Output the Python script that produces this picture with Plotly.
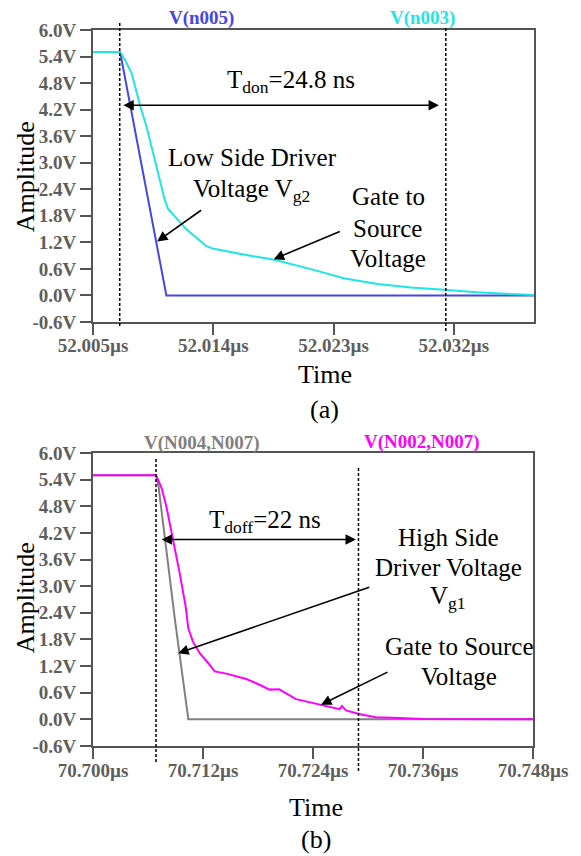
import plotly.graph_objects as go

# ---------------- data (a) ----------------
t_n005_us = [52.0050, 52.00703, 52.01049, 52.0380]
v_n005 = [5.5, 5.5, 0.0, 0.0]

t_n003_us = [52.0050, 52.00703, 52.00740, 52.00789, 52.00851, 52.00900, 52.00950,
             52.00999, 52.01036, 52.01061, 52.01197, 52.01346, 52.01395, 52.01617,
             52.01865, 52.02137, 52.02384, 52.02631, 52.02878, 52.03126, 52.03373,
             52.03670, 52.0380]
v_n003 = [5.5, 5.5, 5.32, 5.02, 4.31, 3.82, 3.22, 2.62, 2.17, 1.96, 1.50, 1.12, 1.06,
          0.93, 0.80, 0.59, 0.385, 0.257, 0.18, 0.13, 0.07, 0.025, 0.01]

# ---------------- data (b) ----------------
t_n004_us = [70.7000, 70.70687, 70.70715, 70.70894, 70.71040, 70.7480]
v_n004 = [5.5, 5.5, 5.25, 2.24, 0.0, 0.0]

t_n002_us = [70.7000, 70.70687, 70.70710, 70.70750, 70.70800, 70.70875, 70.70945,
             70.71010, 70.71040, 70.71090, 70.71165, 70.71256, 70.71328, 70.71455,
             70.71672, 70.71817, 70.71926, 70.72030, 70.72060, 70.72215, 70.72433,
             70.72650, 70.72690, 70.72715, 70.72760, 70.72903, 70.73084, 70.73340,
             70.73600, 70.7480]
v_n002 = [5.5, 5.5, 5.4, 5.2, 4.8, 4.05, 3.3, 2.55, 2.05, 1.75, 1.49, 1.27, 1.08, 1.03,
          0.91, 0.78, 0.67, 0.68, 0.64, 0.455, 0.35, 0.25, 0.23, 0.30, 0.20, 0.12, 0.05,
          0.03, 0.01, 0.0]

xticks_a = [52.005, 52.014, 52.023, 52.032]
xticks_b = [70.700, 70.712, 70.724, 70.736, 70.748]
yticks = [-0.6, 0.0, 0.6, 1.2, 1.8, 2.4, 3.0, 3.6, 4.2, 4.8, 5.4, 6.0]

dash_a = [52.0070, 52.0314]
dash_b = [70.70687, 70.72896]

# ---------------- styling ----------------
SERIF = "Liberation Serif"
AXC = "#555555"
TICKC = "#5e5e5e"
BLUE = "#4646e6"
CYAN = "#1fe6e6"
MAG = "#ff00ff"
GRAY = "#808080"

W, H = 581, 856
ML, MR, MT, MB = 93, 45, 30, 110
PW = W - ML - MR
PH = H - MT - MB


def P(px, py):
    return (px - ML) / PW, (H - MB - py) / PH


fig = go.Figure()
fig.add_trace(go.Scatter(x=t_n005_us, y=v_n005, mode="lines", line=dict(color=BLUE, width=2),
                         xaxis="x", yaxis="y", showlegend=False))
fig.add_trace(go.Scatter(x=t_n003_us, y=v_n003, mode="lines", line=dict(color=CYAN, width=2),
                         xaxis="x", yaxis="y", showlegend=False))
fig.add_trace(go.Scatter(x=t_n004_us, y=v_n004, mode="lines", line=dict(color=GRAY, width=2),
                         xaxis="x2", yaxis="y2", showlegend=False))
fig.add_trace(go.Scatter(x=t_n002_us, y=v_n002, mode="lines", line=dict(color=MAG, width=2),
                         xaxis="x2", yaxis="y2", showlegend=False))

axis_common = dict(showline=True, mirror=True, linecolor=AXC, linewidth=2, showgrid=False,
                   zeroline=False, ticks="outside", ticklen=11, tickwidth=2, tickcolor=AXC,
                   tickfont=dict(family=SERIF, size=19, color=TICKC, weight="bold"))

ytext = ["%.1fV" % v for v in yticks]

top_bottom = (H - MB - 322) / PH
bot_top = (H - MB - 453) / PH

fig.update_layout(
    width=W, height=H, autosize=False,
    margin=dict(l=ML, r=MR, t=MT, b=MB),
    paper_bgcolor="white", plot_bgcolor="white",
    xaxis=dict(domain=[0, 1], anchor="y", range=[52.005, 52.038], tickvals=xticks_a,
               ticktext=["%.3fµs" % v for v in xticks_a], ticklabelstandoff=-6, **axis_common),
    yaxis=dict(domain=[top_bottom, 1], anchor="x", range=[-0.6, 6.0], tickvals=yticks,
               ticktext=ytext, **axis_common),
    xaxis2=dict(domain=[0, (535 - ML) / PW], anchor="y2", range=[70.700, 70.748],
                tickvals=xticks_b, ticktext=["%.3fµs" % v for v in xticks_b],
                ticklabelstandoff=-5, **axis_common),
    yaxis2=dict(domain=[0, bot_top], anchor="x2", range=[-0.6, 6.0], tickvals=yticks,
                ticktext=ytext, **axis_common),
)

# dashed marker lines
shapes = []
for xv, y0p, y1p in [(dash_a[0], 23, 327), (dash_a[1], 28, 331)]:
    shapes.append(dict(type="line", xref="x", yref="paper", x0=xv, x1=xv,
                       y0=P(0, y0p)[1], y1=P(0, y1p)[1],
                       line=dict(color="black", width=1.5, dash="3px,2px")))
for xv, y0p, y1p in [(dash_b[0], 459, 763), (dash_b[1], 468, 773)]:
    shapes.append(dict(type="line", xref="x2", yref="paper", x0=xv, x1=xv,
                       y0=P(0, y0p)[1], y1=P(0, y1p)[1],
                       line=dict(color="black", width=1.5, dash="3px,2px")))
fig.update_layout(shapes=shapes)

ann = []


def text(px, py, s, size=25, color="black", bold=False, angle=0):
    x, y = P(px, py)
    f = dict(family=SERIF, size=size, color=color)
    if bold:
        f["weight"] = "bold"
    ann.append(dict(x=x, y=y, xref="paper", yref="paper", text=s, showarrow=False,
                    xanchor="center", yanchor="middle", font=f, textangle=angle))


def arrow(xr, yr, hx, hy, tx, ty, double=False):
    d = dict(x=hx, y=hy, ax=tx, ay=ty, xref=xr, yref=yr, axref=xr, ayref=yr, text="",
             showarrow=True, arrowhead=2, arrowsize=1.3, arrowwidth=1.6, arrowcolor="black",
             standoff=0, startstandoff=0)
    if double:
        d.update(arrowside="end+start", startarrowhead=2, startarrowsize=1.3)
    ann.append(d)


# (a)
text(202, 18, "V(n005)", size=19, color=BLUE, bold=True)
text(424, 18, "V(n003)", size=19, color=CYAN, bold=True)
text(292, 82, "T<sub>don</sub>=24.8 ns")
text(253, 157, "Low Side Driver")
text(252, 190, "Voltage V<sub>g2</sub>")
text(390, 197, "Gate to")
text(389, 228, "Source")
text(389, 258, "Voltage")
text(326, 375, "Time", size=26)
text(326, 409, "(a)", size=26)
text(25, 177, "Amplitude", size=26, angle=-90)
arrow("x", "y", 52.00727, 4.3, 52.0310, 4.3, double=True)
arrow("x", "y", 52.0098, 1.22, 52.0132, 1.95)
arrow("x", "y", 52.01852, 0.82, 52.02358, 1.46)

# (b)
text(202, 443, "V(N004,N007)", size=19, color=GRAY, bold=True)
text(423, 442, "V(N002,N007)", size=19, color=MAG, bold=True)
text(266, 521, "T<sub>doff</sub>=22 ns")
text(450, 537, "High Side")
text(450, 567, "Driver Voltage")
text(450, 597, "V<sub>g1</sub>")
text(461, 646, "Gate to Source")
text(461, 676, "Voltage")
text(317, 807, "Time", size=26)
text(317, 839, "(b)", size=26)
text(25, 598, "Amplitude", size=26, angle=-90)
arrow("x2", "y2", 70.70749, 4.05, 70.72884, 4.05, double=True)
arrow("x2", "y2", 70.7093, 1.49, 70.7303, 2.99)
arrow("x2", "y2", 70.72487, 0.33, 70.73229, 1.08)

fig.update_layout(annotations=ann)

fig.write_html("out.html")
